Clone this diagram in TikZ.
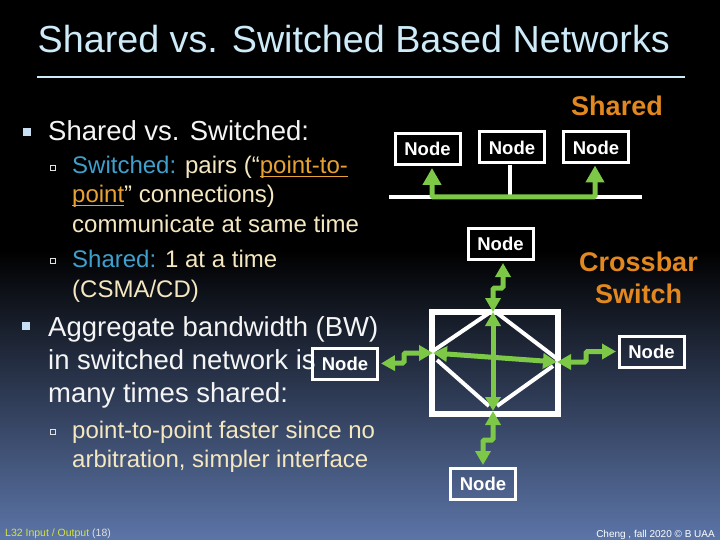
\documentclass[tikz,border=0pt]{standalone}
\usepackage{fontspec}
\setmainfont{Liberation Sans}
\usetikzlibrary{arrows.meta}
\definecolor{bgb}{RGB}{92,117,168}
\definecolor{bgm}{RGB}{26,34,56}
\definecolor{titleblue}{RGB}{205,235,248}
\definecolor{wtext}{RGB}{245,245,245}
\definecolor{cream}{RGB}{245,232,192}
\definecolor{teal}{RGB}{62,160,205}
\definecolor{orng}{RGB}{232,162,52}
\definecolor{dorange}{RGB}{226,136,30}
\definecolor{grn}{RGB}{125,200,70}
\definecolor{ygreen}{RGB}{212,228,64}
\definecolor{lgray}{RGB}{225,225,225}
\definecolor{bullet}{RGB}{200,222,242}
\newcommand\myul[1]{\setbox0\hbox{#1}\rlap{\rule[-3pt]{\wd0}{1.3pt}}\box0}
\tikzset{
  nbox/.style={draw=white, line width=3pt, minimum width=65pt, minimum height=31pt,
    inner sep=0pt, font=\bfseries\fontsize{18.5}{20}\selectfont, text=white},
  mainline/.style={anchor=base west, inner sep=0pt, font=\fontsize{27.5}{33}\selectfont, text=wtext},
  subline/.style={anchor=base west, inner sep=0pt, font=\fontsize{24}{29}\selectfont, text=cream},
  otext/.style={anchor=base, inner sep=0pt, font=\bfseries\fontsize{27}{32}\selectfont, text=dorange},
  gshared/.style={draw=grn, line width=5pt, rounded corners=1.5pt,
    arrows={Triangle[width=18pt,length=17pt]-Triangle[width=18pt,length=17pt]}},
  gx/.style={draw=grn, line width=5pt, rounded corners=1.5pt,
    arrows={Triangle[width=15pt,length=14pt]-Triangle[width=15pt,length=14pt]}},
  wline/.style={draw=white, line width=4pt},
  mbul/.style={fill=bullet},
  sbul/.style={draw=lgray, line width=0.9pt}
}
\begin{document}
\begin{tikzpicture}[x=1pt,y=-1pt]
\useasboundingbox (0,0) rectangle (720,540);
% background
\fill[black] (0,0) rectangle (720,540);
\shade[top color=black, middle color=bgm, bottom color=bgb] (0,250) rectangle (720,540.5);
% title
\node[anchor=base west, inner sep=0pt, font=\fontsize{37.7}{40}\selectfont, text=titleblue] (title) at (37.5,52.5) {Shared vs. Switched Based Networks};
\draw[titleblue, line width=2pt] (37,77) -- (685,77);
% left text
\fill[mbul] (23,128) rectangle (31,136);
\node[mainline] (l1) at (48,141) {Shared vs. Switched:};
\draw[sbul] (50,165) rectangle (55.5,170.5);
\node[subline] (l2) at (72,174) {{\color{teal}Switched:} pairs (“{\color{orng}\myul{point-to-}}};
\node[subline] (l3) at (72,203) {{\color{orng}\myul{point}}” connections)};
\node[subline] (l4) at (72,233) {communicate at same time};
\draw[sbul] (50,258) rectangle (55.5,263.5);
\node[subline] (l5) at (72,267) {{\color{teal}Shared:} 1 at a time};
\node[subline] (l6) at (72,297) {(CSMA/CD)};
\fill[mbul] (22,322) rectangle (30,330);
\node[mainline] (l7) at (48,336) {Aggregate bandwidth (BW)};
\node[mainline] (l8) at (48,369) {in switched network is};
\node[mainline] (l9) at (48,402) {many times shared:};
\draw[sbul] (50,429) rectangle (55.5,434.5);
\node[subline] (l10) at (72,438) {point-to-point faster since no};
\node[subline] (l11) at (72,467) {arbitration, simpler interface};
% footers
\node[anchor=base west, inner sep=0pt, font=\fontsize{10.5}{12}\selectfont] (foot1) at (5,536) {\color{ygreen}L32 Input / Output \color{lgray}(18)};
\node[anchor=base east, inner sep=0pt, font=\fontsize{10}{12}\selectfont, text=white] (foot2) at (715,537) {Cheng , fall 2020 © B UAA};
% orange labels
\node[otext] (shl) at (617,116) {Shared};
\node[otext] (cb1) at (638.5,271) {Crossbar};
\node[otext] (cb2) at (638.5,303) {Switch};
% shared bus
\node[nbox] (n1) at (427.5,149) {Node};
\node[nbox] (n2) at (512,147.5) {Node};
\node[nbox] (n3) at (596,147.5) {Node};
\coordinate (busL) at (389,197);
\coordinate (busR) at (642,197);
\coordinate (stub) at (510,165);
\draw[white, line width=3.5pt] (busL) -- (busR);
\draw[white, line width=3.5pt] (stub) -- (stub |- busL);
\coordinate (g1) at ([xshift=4.5pt]n1.south);
\coordinate (g3) at ([xshift=-1pt]n3.south);
\draw[gshared, shorten <=2pt, shorten >=1pt] (g1) |- (g3 |- busL) -- (g3);
% crossbar
\node[nbox] (nm) at (500.5,244) {Node};
\node[nbox] (nl) at (345,363.5) {Node};
\node[nbox] (nr) at (651.5,351.5) {Node};
\node[nbox] (nb) at (483,483.5) {Node};
\draw[white, line width=6pt] (432,312) rectangle (558,414);
\draw[wline] (433,351) -- (489,313);
\draw[wline] (497,313) -- (556,358);
\draw[wline] (437,360) -- (489,406);
\draw[wline] (497,406) -- (553,366);
\coordinate (T) at (493,312);
\coordinate (B) at (493,411);
\coordinate (L) at (433,353);
\coordinate (R) at (557,362);
\draw[gx] (T) -- (B);
\draw[gx] (L) -- (R);
\coordinate (zt) at (503,288);
\coordinate (zl) at (404,363);
\coordinate (zr) at (586,362);
\coordinate (zb) at (495,440);
\draw[gx, shorten <=2pt] (nm.south -| zt) -- (zt) -| (T);
\draw[gx, shorten <=2pt] (nl.east) -- (zl) |- (L);
\draw[gx, shorten >=1.5pt] (R) -- (zr) |- (nr.west);
\draw[gx, shorten >=1.5pt] (B) -- (B |- zb) -| (nb.north);
\end{tikzpicture}
\end{document}
